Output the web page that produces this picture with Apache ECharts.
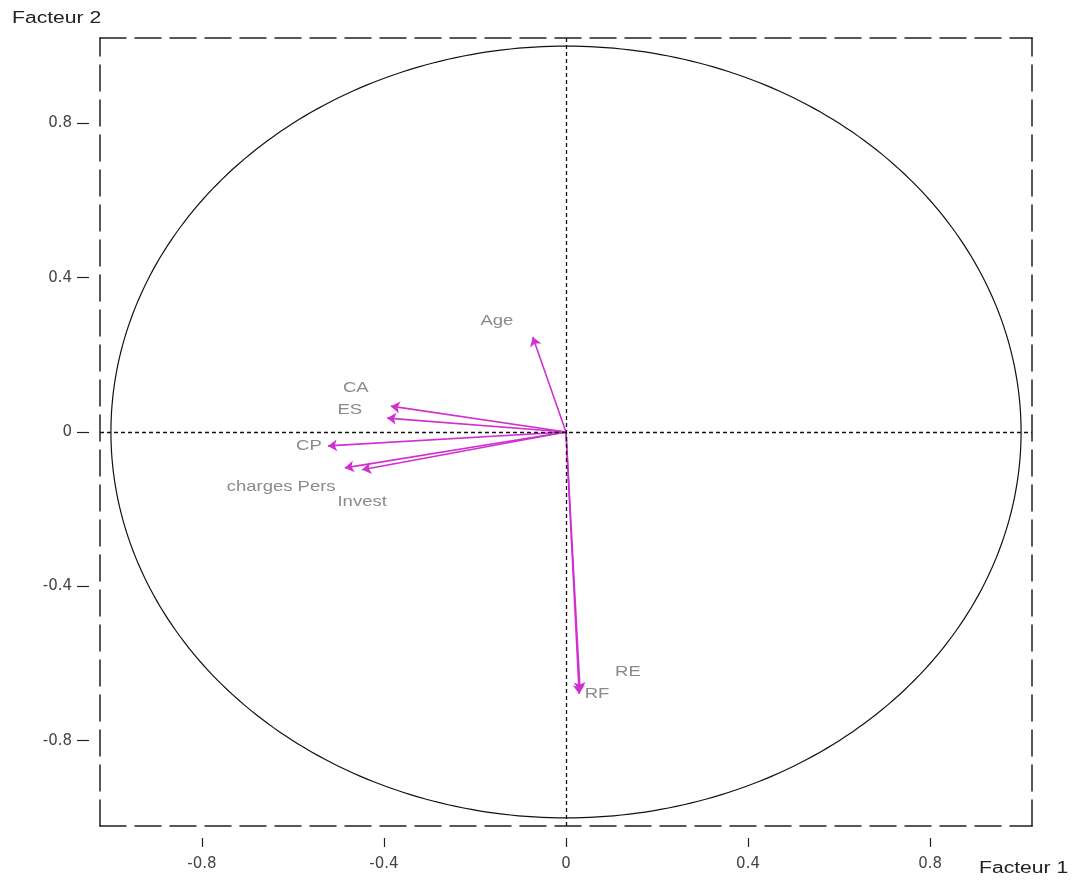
<!DOCTYPE html>
<html>
<head>
<meta charset="utf-8">
<script src="https://cdn.jsdelivr.net/npm/echarts@6/dist/echarts.min.js"></script>
<style>
html,body{margin:0;padding:0;background:#fff;}
#chart{width:1074px;height:880px;}
</style>
</head>
<body>
<div id="chart"></div>
<script>
// Variables (correlation with factors)
var variables = ['Age', 'CA', 'ES', 'CP', 'charges Pers', 'Invest', 'RE', 'RF'];
var factor1 = [-0.073, -0.385, -0.393, -0.523, -0.486, -0.448, 0.031, 0.029];
var factor2 = [0.246, 0.067, 0.036, -0.036, -0.093, -0.098, -0.672, -0.679];
// Label anchor positions (data coordinates)
var labelX = [-0.152, -0.462, -0.475, -0.565, -0.626, -0.448, 0.136, 0.068];
var labelY = [0.288, 0.114, 0.057, -0.036, -0.142, -0.181, -0.622, -0.679];
var tickValues = [-0.8, -0.4, 0, 0.4, 0.8];
var xRange = [-1.024, 1.024];
var yRange = [-1.021, 1.021];
var circleRadius = [1];

var chart = echarts.init(document.getElementById('chart'));

var dashBorder = {show: true, onZero: false, lineStyle: {color: '#222', width: 1.5, type: [26, 9]}};
var fontFam = '"DejaVu Sans", "Liberation Sans", Arial, sans-serif';
var labFam = '"Liberation Sans", Arial, sans-serif';
var stretch = 1.32;

function baseAxis(extra, range) {
  return Object.assign({
    type: 'value', min: range[0], max: range[1],
    splitLine: {show: false}, axisTick: {show: false}, axisLabel: {show: false}
  }, extra);
}

var option = {
  animation: false,
  backgroundColor: '#fff',
  grid: {left: 100, right: 42, top: 38, bottom: 54, containLabel: false},
  xAxis: [
    baseAxis({position: 'bottom', axisLine: dashBorder}, xRange),
    baseAxis({position: 'top', axisLine: dashBorder}, xRange),
    baseAxis({
      position: 'bottom', offset: 12, axisLine: {show: false, onZero: false},
      axisTick: {show: true, length: 9, customValues: tickValues, lineStyle: {color: '#222', width: 1.2}},
      axisLabel: {show: true, customValues: tickValues, margin: 19, color: '#444', fontSize: 15, fontFamily: fontFam}
    }, xRange)
  ],
  yAxis: [
    baseAxis({position: 'left', axisLine: dashBorder}, yRange),
    baseAxis({position: 'right', axisLine: dashBorder}, yRange),
    baseAxis({
      position: 'left', offset: 11, axisLine: {show: false, onZero: false},
      axisTick: {show: true, length: 12, customValues: tickValues, lineStyle: {color: '#222', width: 1.2}},
      axisLabel: {show: true, customValues: tickValues, margin: 17, color: '#444', fontSize: 15, fontFamily: fontFam}
    }, yRange)
  ],
  graphic: [
    {type: 'text', x: 12, y: 11, scaleX: stretch, style: {text: 'Facteur 2', fill: '#222', font: '16px ' + labFam}},
    {type: 'text', x: 979, y: 861, scaleX: stretch, style: {text: 'Facteur 1', fill: '#222', font: '16px ' + labFam}}
  ],
  series: [
    {
      type: 'custom',
      xAxisIndex: 0, yAxisIndex: 0,
      silent: true,
      clip: false,
      data: [[0, 0, circleRadius[0]]],
      renderItem: function (params, api) {
        var cx = api.value(0), cy = api.value(1), r = api.value(2);
        var pts = [];
        for (var a = 0; a <= 360; a += 1) {
          var t = a * Math.PI / 180;
          pts.push(api.coord([cx + r * Math.cos(t), cy + r * Math.sin(t)]));
        }
        return {type: 'polyline', shape: {points: pts}, style: {stroke: '#111', lineWidth: 1.2, fill: null}};
      },
      markLine: {
        silent: true,
        symbol: 'none',
        label: {show: false},
        lineStyle: {color: '#111', width: 1.3, type: [4, 3]},
        data: [{xAxis: 0}, {yAxis: 0}]
      }
    },
    {
      type: 'lines',
      coordinateSystem: 'cartesian2d',
      xAxisIndex: 0, yAxisIndex: 0,
      symbol: ['none', 'arrow'],
      symbolSize: 9,
      lineStyle: {color: '#d030d0', width: 1.6, opacity: 1},
      itemStyle: {color: '#d030d0'},
      data: variables.map(function (n, i) {
        return {name: n, coords: [[0, 0], [factor1[i], factor2[i]]]};
      })
    },
    {
      type: 'custom',
      xAxisIndex: 0, yAxisIndex: 0,
      silent: true,
      data: variables.map(function (n, i) { return [labelX[i], labelY[i], i]; }),
      renderItem: function (params, api) {
        var p = api.coord([api.value(0), api.value(1)]);
        return {
          type: 'text', x: p[0], y: p[1], scaleX: stretch,
          style: {text: variables[api.value(2)], fill: '#8a8a8a', font: '14px ' + labFam, align: 'center', verticalAlign: 'middle'}
        };
      }
    }
  ]
};
chart.setOption(option);
</script>
</body>
</html>
